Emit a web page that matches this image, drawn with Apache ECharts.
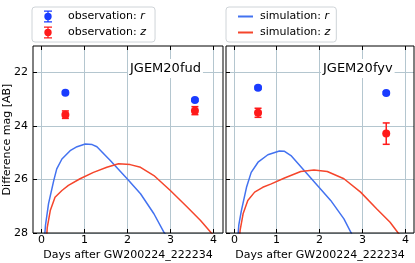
<!DOCTYPE html>
<html>
<head>
<meta charset="utf-8">
<script src="https://cdn.jsdelivr.net/npm/echarts@6/dist/echarts.min.js"></script>
<style>html,body{margin:0;padding:0;background:#fff}#c{width:415px;height:263px}</style>
</head>
<body>
<div id="c"></div>
<script>
// ---- data ----
var xTicks = [0, 1, 2, 3, 4];
var yTicks = [22, 24, 26, 28];
var obsDays = [0.56, 3.56];
// JGEM20fud (left panel)
var fudObsR = [22.75, 23.02];
var fudErrR = [0.05, 0.05];
var fudObsZ = [23.57, 23.42];
var fudErrZ = [0.14, 0.15];
var fudSimRDays = [0.07, 0.1, 0.17, 0.29, 0.36, 0.48, 0.67, 0.83, 1.02, 1.18, 1.29, 1.6, 1.99, 2.3, 2.61, 2.84, 2.95];
var fudSimRMag  = [28.3, 27.7, 26.9, 26.04, 25.6, 25.23, 24.92, 24.77, 24.67, 24.69, 24.77, 25.29, 25.97, 26.53, 27.28, 27.97, 28.2];
var fudSimZDays = [0.12, 0.14, 0.21, 0.32, 0.48, 0.63, 0.9, 1.21, 1.52, 1.79, 2.06, 2.3, 2.61, 2.99, 3.38, 3.69, 3.94, 4.1];
var fudSimZMag  = [28.3, 27.8, 27.16, 26.66, 26.41, 26.22, 25.97, 25.73, 25.54, 25.41, 25.44, 25.54, 25.85, 26.41, 27.03, 27.53, 28.0, 28.25];
// JGEM20fyv (right panel)
var fyvObsR = [22.56, 22.76];
var fyvErrR = [0.05, 0.05];
var fyvObsZ = [23.5, 24.28];
var fyvErrZ = [0.17, 0.4];
var fyvSimRDays = [0.08, 0.11, 0.17, 0.29, 0.4, 0.56, 0.79, 1.06, 1.18, 1.33, 1.64, 1.95, 2.26, 2.57, 2.75, 2.85];
var fyvSimRMag  = [28.3, 27.7, 27.16, 26.29, 25.73, 25.35, 25.07, 24.93, 24.94, 25.1, 25.66, 26.22, 26.78, 27.47, 28.03, 28.3];
var fyvSimZDays = [0.12, 0.14, 0.21, 0.32, 0.48, 0.67, 0.87, 1.18, 1.56, 1.87, 2.18, 2.57, 2.96, 3.34, 3.65, 3.84, 4.0];
var fyvSimZMag  = [28.3, 27.9, 27.28, 26.78, 26.47, 26.29, 26.16, 25.94, 25.7, 25.64, 25.7, 25.97, 26.47, 27.1, 27.6, 28.0, 28.3];
var panelNames = ['JGEM20fud', 'JGEM20fyv'];
var xTitle = 'Days after GW200224_222234';
var yTitle = 'Difference mag [AB]';
var xMin = -0.19, xMax = 4.21, yMin = 21, yMax = 28;

// ---- style ----
var FONT = 'DejaVu Sans';
var C_OBS_R = '#1a3cff', C_OBS_Z = '#ff1a1a';
var C_SIM_R = '#4372f0', C_SIM_Z = '#f5452b';
var GRIDC = '#b4c6cf';

function pairs(xs, ys) { return xs.map(function (x, i) { return [x, ys[i]]; }); }
function triples(xs, ys, es) { return xs.map(function (x, i) { return [x, ys[i], es[i]]; }); }
function crisp(v) { return Math.round(v - 0.5) + 0.5; }

function errRender(color) {
  return function (params, api) {
    var x = api.value(0), y = api.value(1), e = api.value(2);
    var p1 = api.coord([x, y - e]), p2 = api.coord([x, y + e]);
    var h = 3.5;
    var st = { stroke: color, lineWidth: 1.5 };
    return { type: 'group', children: [
      { type: 'line', shape: { x1: p1[0], y1: p1[1], x2: p2[0], y2: p2[1] }, style: st },
      { type: 'line', shape: { x1: p1[0] - h, y1: p1[1], x2: p1[0] + h, y2: p1[1] }, style: st },
      { type: 'line', shape: { x1: p2[0] - h, y1: p2[1], x2: p2[0] + h, y2: p2[1] }, style: st }
    ]};
  };
}
var TL = 4;
function xTickRender(params, api) {
  var cs = params.coordSys;
  var x = crisp(api.coord([api.value(0), yMin])[0]);
  var top = cs.y, bot = cs.y + cs.height;
  return { type: 'group', children: [
    { type: 'line', shape: { x1: x, y1: top, x2: x, y2: bot }, style: { stroke: GRIDC, lineWidth: 1 }, z2: 0 },
    { type: 'line', shape: { x1: x, y1: bot - TL, x2: x, y2: bot }, style: { stroke: '#000', lineWidth: 1 }, z2: 1 },
    { type: 'line', shape: { x1: x, y1: top, x2: x, y2: top + TL }, style: { stroke: '#000', lineWidth: 1 }, z2: 1 },
    { type: 'text', x: x, y: bot + 2, style: { text: String(api.value(0)), fill: '#000', font: '11px "DejaVu Sans"',
      textAlign: 'center', textVerticalAlign: 'top' } }
  ]};
}
function yTickRender(showLabel) {
  return function (params, api) {
    var cs = params.coordSys;
    var y = crisp(api.coord([xMin, api.value(1)])[1]);
    var l = cs.x, r = cs.x + cs.width;
    var ch = [
      { type: 'line', shape: { x1: l, y1: y, x2: r, y2: y }, style: { stroke: GRIDC, lineWidth: 1 }, z2: 0 },
      { type: 'line', shape: { x1: l, y1: y, x2: l + TL, y2: y }, style: { stroke: '#000', lineWidth: 1 }, z2: 1 }
    ];
    if (showLabel) ch.push({ type: 'text', x: l - 5, y: y, style: { text: String(api.value(1)), fill: '#000',
      font: '11px "DejaVu Sans"', textAlign: 'right', textVerticalAlign: 'middle' } });
    return { type: 'group', children: ch };
  };
}

var grids = [
  { left: 33, top: 46, width: 190, height: 187, show: true, borderColor: '#000', borderWidth: 1, backgroundColor: 'transparent', z: 5,
    containLabel: false, outerBoundsMode: 'none' },
  { left: 226, top: 46, width: 188, height: 187, show: true, borderColor: '#000', borderWidth: 1, backgroundColor: 'transparent', z: 5,
    containLabel: false, outerBoundsMode: 'none' }
];
function xAx(gi) {
  return {
    type: 'value', gridIndex: gi, min: xMin, max: xMax,
    name: xTitle, nameLocation: 'middle', nameGap: 17,
    nameTextStyle: { fontFamily: FONT, fontSize: 11, color: '#000' },
    axisLine: { show: false }, axisTick: { show: false }, axisLabel: { show: false }, splitLine: { show: false }
  };
}
function yAx(gi) {
  return {
    type: 'value', gridIndex: gi, min: yMin, max: yMax, inverse: true,
    name: gi === 0 ? yTitle : '', nameLocation: 'middle', nameGap: 20,
    nameTextStyle: { fontFamily: FONT, fontSize: 11, color: '#000' },
    axisLine: { show: false }, axisTick: { show: false }, axisLabel: { show: false }, splitLine: { show: false }
  };
}

var series = [];
var panels = [
  { rD: fudSimRDays, rM: fudSimRMag, zD: fudSimZDays, zM: fudSimZMag, oR: fudObsR, eR: fudErrR, oZ: fudObsZ, eZ: fudErrZ },
  { rD: fyvSimRDays, rM: fyvSimRMag, zD: fyvSimZDays, zM: fyvSimZMag, oR: fyvObsR, eR: fyvErrR, oZ: fyvObsZ, eZ: fyvErrZ }
];
panels.forEach(function (p, gi) {
  series.push({ type: 'custom', xAxisIndex: gi, yAxisIndex: gi, clip: false, silent: true, z: 1,
    data: xTicks.map(function (v) { return [v, yMin]; }), renderItem: xTickRender });
  series.push({ type: 'custom', xAxisIndex: gi, yAxisIndex: gi, clip: false, silent: true, z: 1,
    data: yTicks.map(function (v) { return [xMin, v]; }), renderItem: yTickRender(gi === 0) });
  series.push({ name: 'simulation: r', type: 'line', xAxisIndex: gi, yAxisIndex: gi, data: pairs(p.rD, p.rM),
    showSymbol: false, smooth: false, clip: true, lineStyle: { color: C_SIM_R, width: 1.5 }, itemStyle: { color: C_SIM_R }, z: 3 });
  series.push({ name: 'simulation: z', type: 'line', xAxisIndex: gi, yAxisIndex: gi, data: pairs(p.zD, p.zM),
    showSymbol: false, smooth: false, clip: true, lineStyle: { color: C_SIM_Z, width: 1.5 }, itemStyle: { color: C_SIM_Z }, z: 3 });
  series.push({ name: 'errR' + gi, type: 'custom', xAxisIndex: gi, yAxisIndex: gi, data: triples(obsDays, p.oR, p.eR),
    renderItem: errRender(C_OBS_R), z: 4 });
  series.push({ name: 'errZ' + gi, type: 'custom', xAxisIndex: gi, yAxisIndex: gi, data: triples(obsDays, p.oZ, p.eZ),
    renderItem: errRender(C_OBS_Z), z: 4 });
  series.push({ name: 'observation: r', type: 'scatter', xAxisIndex: gi, yAxisIndex: gi, data: pairs(obsDays, p.oR),
    symbol: 'circle', symbolSize: 8, itemStyle: { color: C_OBS_R, opacity: 1 }, z: 5 });
  series.push({ name: 'observation: z', type: 'scatter', xAxisIndex: gi, yAxisIndex: gi, data: pairs(obsDays, p.oZ),
    symbol: 'circle', symbolSize: 8, itemStyle: { color: C_OBS_Z, opacity: 1 }, z: 5 });
});

var obsIcon = 'path://M0,0H8V1.3H0Z M3.35,0H4.65V12H3.35Z M0,10.7H8V12H0Z M4,2.3A3.7,3.7 0 1 1 3.99,2.3Z';
function obsFmt(name) { return '{n|' + name.replace(/: (\w)$/, ': ') + '}{i|' + name.slice(-1) + '}'; }
function simFmt(name) { return '{m|' + name.replace(/: (\w)$/, ': ') + '}{i|' + name.slice(-1) + '}'; }
var baseRich = { fontFamily: FONT, fontSize: 11, color: '#000', lineHeight: 13 };
var legendText = { fontFamily: FONT, fontSize: 11, color: '#000', lineHeight: 13,
  rich: {
    n: Object.assign({ padding: [0, 0, 0, 11] }, baseRich),
    m: Object.assign({ padding: [0, 0, 0, 2] }, baseRich),
    i: Object.assign({ fontStyle: 'italic' }, baseRich)
  } };

var option = {
  animation: false,
  backgroundColor: '#fff',
  grid: grids,
  xAxis: [xAx(0), xAx(1)],
  yAxis: [yAx(0), yAx(1)],
  legend: [
    { left: 32, top: 7, orient: 'vertical', data: [{ name: 'observation: r', icon: obsIcon }, { name: 'observation: z', icon: obsIcon }],
      itemWidth: 8, itemHeight: 12, itemGap: 3, padding: [3, 9, 3, 12], formatter: obsFmt, textStyle: legendText,
      backgroundColor: '#fff', borderColor: '#cfd4d8', borderWidth: 1, borderRadius: 3, selectedMode: false },
    { left: 226, top: 7, orient: 'vertical', data: [{ name: 'simulation: r', icon: 'rect' }, { name: 'simulation: z', icon: 'rect' }],
      itemWidth: 15, itemHeight: 2, itemGap: 3, padding: [3, 6, 3, 12], formatter: simFmt, textStyle: legendText,
      backgroundColor: '#fff', borderColor: '#cfd4d8', borderWidth: 1, borderRadius: 3, selectedMode: false }
  ],
  graphic: [
    { type: 'text', left: 128, top: 59, z: 10, style: { text: panelNames[0], font: '13px "DejaVu Sans"', fill: '#000',
      backgroundColor: '#fff', padding: [3, 2] } },
    { type: 'text', left: 321, top: 59, z: 10, style: { text: panelNames[1], font: '13px "DejaVu Sans"', fill: '#000',
      backgroundColor: '#fff', padding: [3, 2] } }
  ],
  series: series
};
var chart = echarts.init(document.getElementById('c'), null, { renderer: 'canvas' });
chart.setOption(option);
</script>
</body>
</html>
